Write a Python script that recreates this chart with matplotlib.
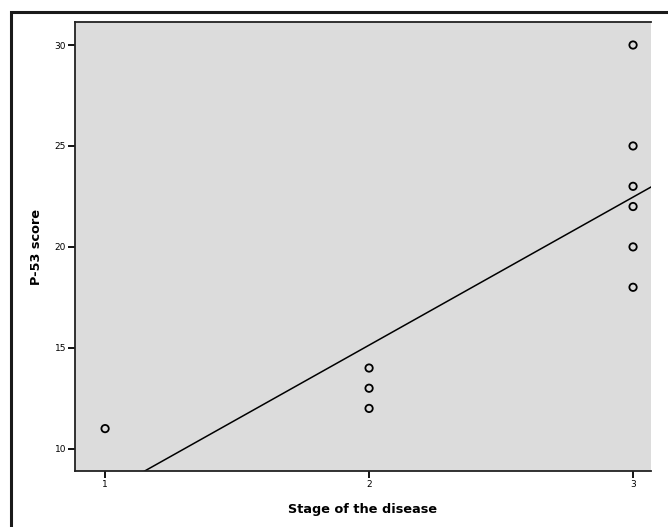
import numpy as np
import matplotlib
matplotlib.use("Agg")
import matplotlib.pyplot as plt
from matplotlib.patches import Rectangle

# data
stage = [1, 2, 2, 2, 3, 3, 3, 3, 3, 3]
p53_score = [11, 12, 13, 14, 18, 20, 22, 23, 25, 30]
x_ticks = [1, 2, 3]
y_ticks = [10, 15, 20, 25, 30]

plt.rcParams['font.family'] = ['DejaVu Sans']

W, H = 668, 527
fig = plt.figure(figsize=(W / 100, H / 100), dpi=100)
fig.patch.set_facecolor('white')

# outer frame (runs off the right and bottom edges)
fig.add_artist(Rectangle((11 / W, -0.05), 1.0, 1 - 12 / H + 0.05,
                         transform=fig.transFigure, fill=False,
                         edgecolor='#1a1a1a', linewidth=2.2))

ax = fig.add_axes([75 / W, 1 - 471 / H, (651 - 75) / W, (471 - 22) / H])
ax.set_facecolor('#dcdcdc')

ax.scatter(stage, p53_score, s=28, facecolors='none', edgecolors='black',
           linewidths=1.3, zorder=3)

# linear fit line
slope, intercept = np.polyfit(stage, p53_score, 1)
xx = np.array([0.8, 3.2])
ax.plot(xx, slope * xx + intercept, color='black', linewidth=1.1, zorder=2)

ax.set_xlim(0.886, 3.068)
ax.set_ylim(8.9, 31.14)
ax.set_xticks(x_ticks)
ax.set_yticks(y_ticks)
ax.tick_params(direction='out', length=5, width=1.3, labelsize=6.5, colors='black', pad=1.5)

for side in ['top', 'left', 'bottom']:
    ax.spines[side].set_linewidth(1.3)
    ax.spines[side].set_color('#222222')
ax.spines['right'].set_visible(False)

ax.set_xlabel('Stage of the disease', fontsize=9.3, fontweight='bold', labelpad=10)
ax.set_ylabel('P-53 score', fontsize=9.3, fontweight='bold', labelpad=8)

fig.savefig('out.png', dpi=100, facecolor='white')
